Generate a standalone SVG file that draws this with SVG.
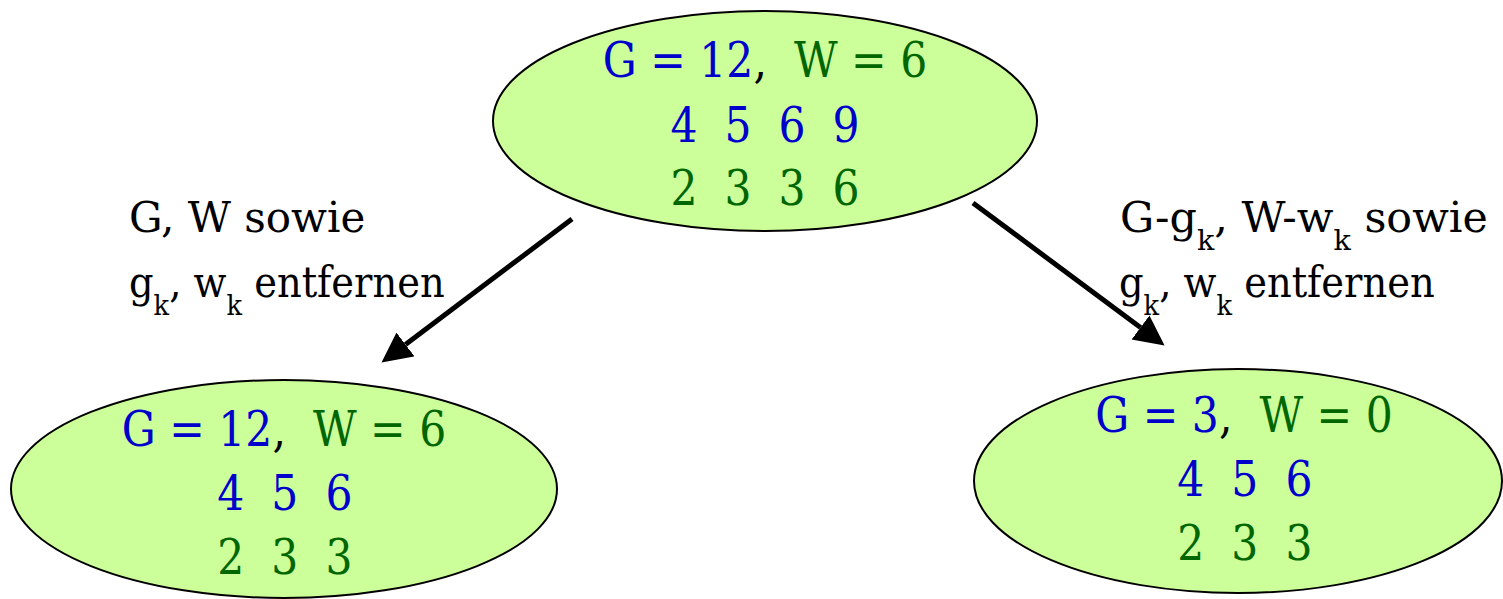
<svg xmlns="http://www.w3.org/2000/svg" width="1503" height="599" viewBox="0 0 1503 599">
  <style>
    .val { font-family: "DejaVu Serif", serif; font-size: 48px; text-anchor: middle; white-space: pre; }
    .lbl { font-family: "DejaVu Serif", serif; font-size: 42px; fill: #000000; white-space: pre; }
    .node { fill: #CCFF99; stroke: #000000; stroke-width: 2; }
    .sub { font-size: 28px; }
    .g { fill: #0000CC; }
    .w { fill: #006600; }
    .k { fill: #000000; }
    .edge { stroke: #000000; stroke-width: 5; fill: none; marker-end: url(#head); }
  </style>
  <defs>
    <marker id="head" markerUnits="userSpaceOnUse" markerWidth="32" markerHeight="32" refX="0" refY="15" orient="auto">
      <path d="M0,0 L30,15 L0,30 Z" fill="#000000"/>
    </marker>
  </defs>

  <!-- connectors and their labels -->
  <g id="connectors">
    <line class="edge" x1="572" y1="219" x2="405.5" y2="344.5"/>
    <line class="edge" x1="973" y1="203" x2="1140.5" y2="327.5"/>
    <text class="lbl" x="129" y="232">G, W sowie</text>
    <g transform="translate(129,0) scale(0.915,1)">
      <text class="lbl" x="0" y="297">g<tspan class="sub" dy="18">k</tspan><tspan dy="-18">, w</tspan><tspan class="sub" dy="18">k</tspan><tspan dy="-18"> entfernen</tspan></text>
    </g>
    <g transform="translate(1120,0) scale(1.02,1)">
      <text class="lbl" x="0" y="232">G-g<tspan class="sub" dy="18">k</tspan><tspan dy="-18">, W-w</tspan><tspan class="sub" dy="18">k</tspan><tspan dy="-18"> sowie</tspan></text>
    </g>
    <g transform="translate(1119,0) scale(0.915,1)">
      <text class="lbl" x="0" y="297">g<tspan class="sub" dy="18">k</tspan><tspan dy="-18">, w</tspan><tspan class="sub" dy="18">k</tspan><tspan dy="-18"> entfernen</tspan></text>
    </g>
  </g>

  <!-- root state -->
  <g id="root">
    <ellipse class="node" cx="765" cy="121" rx="272" ry="110"/>
    <g transform="translate(765,0) scale(0.885,1)">
      <text class="val" x="0" y="77"><tspan class="g">G = 12</tspan><tspan class="k">,</tspan><tspan class="w">  W = 6</tspan></text>
      <text class="val g" x="0" y="142">4  5  6  9</text>
      <text class="val w" x="0" y="205">2  3  3  6</text>
    </g>
  </g>

  <!-- left child: item not taken -->
  <g id="left">
    <ellipse class="node" cx="284" cy="489" rx="273" ry="109"/>
    <g transform="translate(284,0) scale(0.885,1)">
      <text class="val" x="0" y="446"><tspan class="g">G = 12</tspan><tspan class="k">,</tspan><tspan class="w">  W = 6</tspan></text>
      <text class="val g" x="1" y="510">4  5  6</text>
      <text class="val w" x="1" y="574">2  3  3</text>
    </g>
  </g>

  <!-- right child: item taken -->
  <g id="right">
    <ellipse class="node" cx="1238" cy="481" rx="264" ry="112"/>
    <g transform="translate(1244,0) scale(0.885,1)">
      <text class="val" x="0" y="432"><tspan class="g">G = 3</tspan><tspan class="k">,</tspan><tspan class="w">  W = 0</tspan></text>
      <text class="val g" x="1" y="496">4  5  6</text>
      <text class="val w" x="1" y="560">2  3  3</text>
    </g>
  </g>
</svg>
